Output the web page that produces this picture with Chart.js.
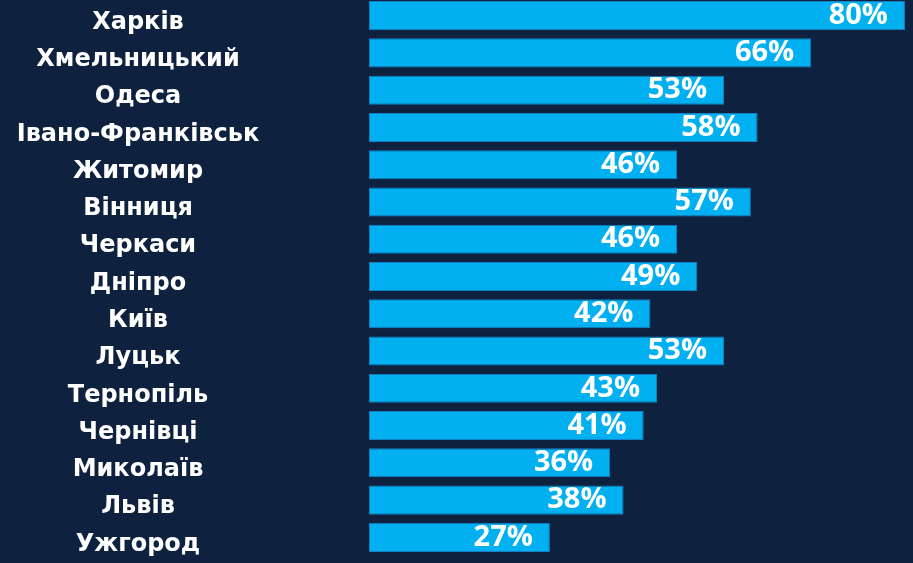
<!DOCTYPE html>
<html>
<head>
<meta charset="utf-8">
<script src="https://cdn.jsdelivr.net/npm/chart.js@4/dist/chart.umd.min.js"></script>
<style>
  html, body { margin: 0; padding: 0; background: #0e2240; overflow: hidden; }
  #c { position: absolute; left: 0; top: -3px; }
</style>
</head>
<body>
<canvas id="c" width="913" height="559"></canvas>
<script>
const cities = ["Харків", "Хмельницький", "Одеса", "Івано-Франківськ", "Житомир", "Вінниця", "Черкаси", "Дніпро", "Київ", "Луцьк", "Тернопіль", "Чернівці", "Миколаїв", "Львів", "Ужгород"];
const shares = [80, 66, 53, 58, 46, 57, 46, 49, 42, 53, 43, 41, 36, 38, 27];

const labelFamily = "'DejaVu Sans', sans-serif";
const labelSize = 24;
const labelFont = { family: labelFamily, size: labelSize, weight: 'bold' };
const valueFontCss = "bold 29px 'Open Sans', sans-serif";

// measure widest label to center labels around x≈138
const mctx = document.createElement('canvas').getContext('2d');
mctx.font = "bold " + labelSize + "px " + labelFamily;
let widest = 0;
cities.forEach(c => { widest = Math.max(widest, mctx.measureText(c).width); });
const axisRight = 369, labelCenter = 138;
const tickPad = axisRight - labelCenter - widest / 2;

const valueLabels = {
  id: 'valueLabels',
  afterDatasetsDraw(chart) {
    const ctx = chart.ctx;
    const meta = chart.getDatasetMeta(0);
    ctx.save();
    ctx.font = valueFontCss;
    ctx.fillStyle = '#ffffff';
    ctx.textAlign = 'right';
    ctx.textBaseline = 'middle';
    meta.data.forEach((bar, i) => {
      ctx.fillText(shares[i] + '%', bar.x - 17, bar.y);
    });
    ctx.restore();
  }
};

new Chart(document.getElementById('c'), {
  type: 'bar',
  data: {
    labels: cities,
    datasets: [{
      data: shares,
      backgroundColor: '#00b0f0',
      borderColor: '#1581c4',
      borderWidth: 1,
      borderSkipped: false,
      barPercentage: 0.78,
      categoryPercentage: 1.0
    }]
  },
  options: {
    indexAxis: 'y',
    responsive: false,
    maintainAspectRatio: false,
    animation: false,
    layout: { padding: 0 },
    plugins: { legend: { display: false }, tooltip: { enabled: false } },
    scales: {
      x: {
        min: 0, max: 81.2,
        display: false,
        grid: { display: false }
      },
      y: {
        grid: { display: false, drawTicks: false },
        border: { display: false },
        ticks: {
          color: '#ffffff',
          font: labelFont,
          crossAlign: 'center',
          padding: tickPad,
          labelOffset: 7,
          autoSkip: false
        },
        afterFit(scale) {
          scale.width = axisRight;
          scale.paddingTop = 0;
          scale.paddingBottom = 0;
        }
      }
    }
  },
  plugins: [valueLabels]
});
</script>
</body>
</html>
